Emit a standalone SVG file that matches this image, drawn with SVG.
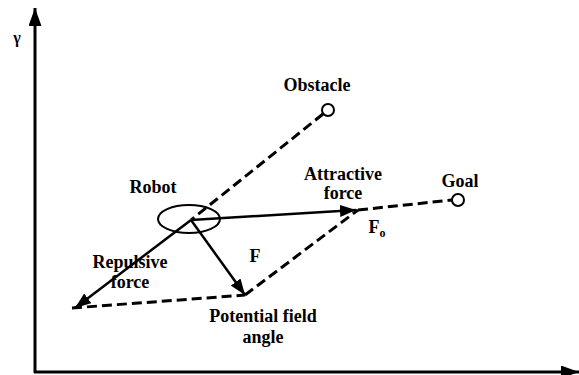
<svg xmlns="http://www.w3.org/2000/svg" width="579" height="375" viewBox="0 0 579 375">
<style>
text{font-family:"Liberation Serif","Times New Roman",serif;font-weight:bold;font-size:18px;fill:#000;text-anchor:middle}
.axis{stroke:#000;stroke-width:3;fill:none}
.force{stroke:#000;stroke-width:2.5;fill:none}
.dash{stroke:#000;stroke-width:3;fill:none;stroke-dasharray:10 5}
.pt{stroke:#000;stroke-width:2;fill:#fff}
</style>
<defs>
<marker id="ah" markerUnits="userSpaceOnUse" markerWidth="18" markerHeight="14" refX="16" refY="6" orient="auto">
<path d="M0,0 L16,6 L0,12 Z" fill="#000"/>
</marker>
<marker id="axh" markerUnits="userSpaceOnUse" markerWidth="20" markerHeight="14" refX="18" refY="6.5" orient="auto">
<path d="M0,0 L18,6.5 L0,13 Z" fill="#000"/>
</marker>
</defs>
<g id="axes">
<line class="axis" x1="35" y1="373" x2="35" y2="8" marker-end="url(#axh)"/>
<line class="axis" x1="34" y1="372" x2="579" y2="372" marker-end="url(#axh)"/>
<text x="17" y="43" style="font-size:16px">γ</text>
</g>
<g id="connectors">
<line class="dash" x1="323" y1="114" x2="191" y2="220"/>
<line class="dash" x1="72" y1="308" x2="245" y2="295"/>
<line class="dash" x1="245" y1="295" x2="358" y2="210"/>
<line class="dash" x1="358" y1="210" x2="452" y2="200"/>
<line class="force" x1="191" y1="220" x2="75" y2="308" marker-end="url(#ah)"/>
<line class="force" x1="191" y1="220" x2="245" y2="295" marker-end="url(#ah)"/>
<line class="force" x1="191" y1="220" x2="356" y2="210" marker-end="url(#ah)"/>
</g>
<g id="robot">
<ellipse cx="189" cy="219" rx="31" ry="14" fill="none" stroke="#000" stroke-width="2"/>
<text x="153" y="193">Robot</text>
</g>
<g id="obstacle">
<circle class="pt" cx="328" cy="110" r="6"/>
<text x="317" y="91">Obstacle</text>
</g>
<g id="goal">
<circle class="pt" cx="458" cy="200" r="6"/>
<text x="460" y="187">Goal</text>
</g>
<g id="attractive">
<text x="343" y="180">Attractive</text>
<text x="343" y="199">force</text>
</g>
<g id="repulsive">
<text x="130" y="268">Repulsive</text>
<text x="130" y="288">force</text>
</g>
<g id="resultant">
<text x="255" y="262">F</text>
</g>
<g id="fo">
<text x="377" y="233">F<tspan dy="4" style="font-size:12px">o</tspan></text>
</g>
<g id="potential">
<text x="263" y="322">Potential field</text>
<text x="263" y="343">angle</text>
</g>
</svg>
